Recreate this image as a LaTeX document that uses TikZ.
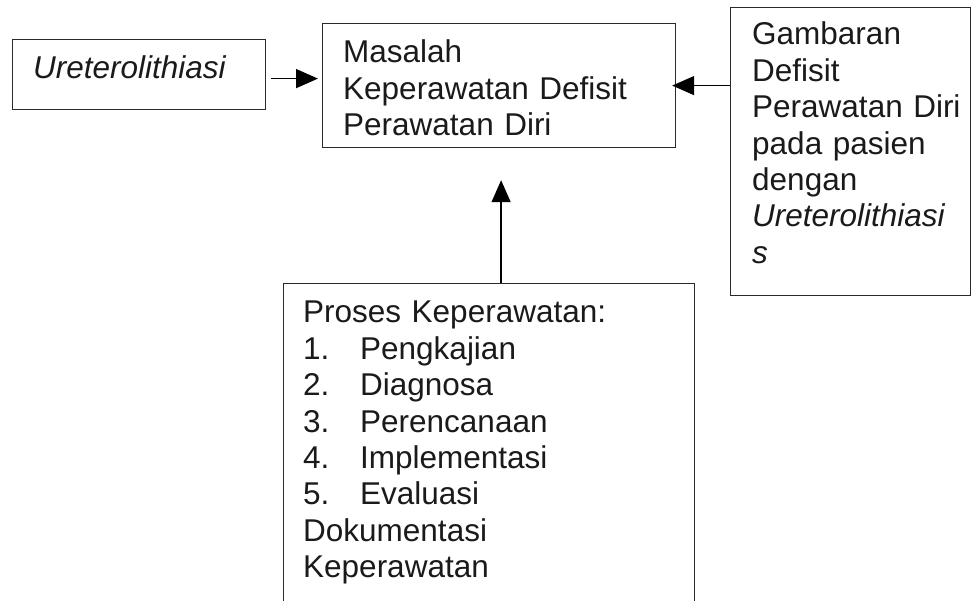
\documentclass[tikz,border=0pt]{standalone}
\usepackage{fontspec}
\setmainfont{Liberation Sans}
\usetikzlibrary{arrows.meta, calc, positioning}
\definecolor{Ink}  {HTML}{1A1A1A}
\definecolor{Edge} {HTML}{2B2B2B}
\newcommand{\diagfont}{\fontsize{31.5}{36.4}\selectfont}
\tikzset{
  box/.style args={#1/#2}{
    rectangle, draw=Edge, line width=1.2pt,
    anchor=north west, inner sep=0pt,
    minimum width=#1, minimum height=#2,
  },
  txt/.style={
    anchor=base west, inner sep=0pt, text=Ink,
    text width=#1, align=left, font=\diagfont,
  },
  arr/.style={
    -{Triangle[length=22pt,width=19pt]},
    line width=1.5pt, color=black,
  },
}
\begin{document}
\begin{tikzpicture}[x=1pt,y=-1pt]
    \fill[white] (0,0) rectangle (971,601);
    \useasboundingbox (0,0) rectangle (971,601);

    % boxes
    \node[box=253pt/70pt]  (ureter)  at (12,39)  {};
    \node[box=353pt/124pt] (masalah) at (322,23) {};
    \node[box=240pt/288pt] (gambar)  at (730,7)  {};
    \node[box=411pt/400pt] (proses)  at (283,283){};

    % texts
    \node[txt=220pt] (tureter) at (33,79)  {\itshape Ureterolithiasi};
    \node[txt=320pt] (tmasalah) at (343,63) {Masalah\\Keperawatan Defisit\\Perawatan Diri};
    \node[txt=230pt] (tgambar) at (752,45) {Gambaran\\Defisit\\Perawatan Diri\\pada pasien\\dengan\\\textit{Ureterolithiasi}\\\textit{s}};
    \node[txt=380pt] (tproses) at (303,323) {Proses Keperawatan:\\
      \makebox[57pt][l]{1.}Pengkajian\\
      \makebox[57pt][l]{2.}Diagnosa\\
      \makebox[57pt][l]{3.}Perencanaan\\
      \makebox[57pt][l]{4.}Implementasi\\
      \makebox[57pt][l]{5.}Evaluasi\\
      Dokumentasi\\
      Keperawatan};

    % connectors
    \draw[arr] ([xshift=5pt,yshift=-4pt]ureter.east) -- ([xshift=-4pt,yshift=7pt]masalah.west);
    \draw[arr] (gambar.west |- masalah.east) -- ([xshift=-4pt]masalah.east);
    \draw[arr] ([xshift=2pt]proses.north -| masalah.south) -- ([xshift=2pt,yshift=-32pt]masalah.south);
\end{tikzpicture}
\end{document}
